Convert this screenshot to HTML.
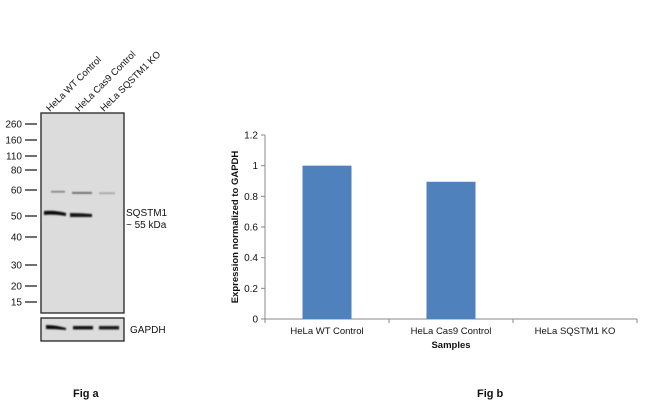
<!DOCTYPE html>
<html><head><meta charset="utf-8"><style>
body{margin:0;background:#fff;}
svg{display:block;font-family:"Liberation Sans",Arial,sans-serif;}
</style></head><body>
<svg id="fig" width="650" height="409" viewBox="0 0 650 409">
<defs>
<filter id="blur1"><feGaussianBlur stdDeviation="0.8"/></filter>
</defs>
<g>
  <rect x="41" y="113" width="83" height="200" fill="#dcdcdc" stroke="#222" stroke-width="1.3"/>
  <rect x="41" y="318" width="83" height="23" fill="#dcdcdc" stroke="#222" stroke-width="1.3"/>
  <g filter="url(#blur1)">
    <path d="M44 211 Q55 210 66 213 L66 216 Q55 214 44 215 Z" fill="#111"/>
    <path d="M70 213 Q81 213 92 214 L92 217 Q81 217 70 217 Z" fill="#151515"/>
    <rect x="51" y="191" width="14" height="1.5" fill="#777"/>
    <rect x="72" y="192" width="20" height="1.8" fill="#666"/>
    <rect x="99" y="192.5" width="16" height="1.4" fill="#999"/>
    <path d="M46 325 Q56 325 66 328 L66 330 Q56 329 46 329 Z" fill="#111"/>
    <rect x="73" y="326" width="20" height="3.5" fill="#181818"/>
    <rect x="99" y="326" width="20" height="3.5" fill="#1a1a1a"/>
  </g>
  <g id="markers" font-size="10" fill="#111"></g>
  <text x="126" y="216" font-size="10" fill="#111">SQSTM1</text>
  <text x="126" y="228" font-size="10" fill="#111">~ 55 kDa</text>
  <text x="130" y="333" font-size="10" fill="#111">GAPDH</text>
  <text transform="translate(50,112) rotate(-45)" font-size="9.5" fill="#111">HeLa WT Control</text>
  <text transform="translate(79,112) rotate(-45)" font-size="9.5" fill="#111">HeLa Cas9 Control</text>
  <text transform="translate(104,112) rotate(-45)" font-size="9.5" fill="#111">HeLa SQSTM1 KO</text>
  <text x="73" y="397" font-size="11" font-weight="bold" fill="#111">Fig a</text>
</g>
<g id="chart"></g>
<text x="477" y="397" font-size="11" font-weight="bold" fill="#111">Fig b</text>
</svg>
<script>
const markerLabels=["260","160","110","80","60","50","40","30","20","15"];
const markerY=[124,140,156,170,190,216,237,265,286,302];
const categories=["HeLa WT Control","HeLa Cas9 Control","HeLa SQSTM1 KO"];
const values=[1.0,0.895,0];
const yTicks=[0,0.2,0.4,0.6,0.8,1,1.2];
const yTickLabels=["0","0.2","0.4","0.6","0.8","1","1.2"];
const NS="http://www.w3.org/2000/svg";
function mk(tag,attrs,parent){const e=document.createElementNS(NS,tag);for(const k in attrs)e.setAttribute(k,attrs[k]);parent.appendChild(e);return e;}
const mg=document.getElementById('markers');
markerLabels.forEach((l,i)=>{
  const t=mk('text',{x:22,y:markerY[i]+3.5,'text-anchor':'end'},mg);t.textContent=l;
  
  
  const ln=mk('line',{x1:25,x2:37,y1:markerY[i],y2:markerY[i],stroke:'#111','stroke-width':1.2},mg);
  
  
});
const ch=document.getElementById('chart');
const X0=265,X1=637,Y0=319,Ytop=135,ymax=1.2;
const ys=v=>Y0-(v/ymax)*(Y0-Ytop);
const cw=(X1-X0)/categories.length;
const ax=mk('line',{x1:X0,x2:X0,y1:Ytop,y2:Y0,stroke:'#888'},ch);


const bx=mk('line',{x1:X0,x2:X1,y1:Y0,y2:Y0,stroke:'#888'},ch);


yTicks.forEach((v,i)=>{
  mk('line',{x1:X0-4,x2:X0,y1:ys(v),y2:ys(v),stroke:'#888'},ch);
  const t=mk('text',{x:X0-7,y:ys(v)+3.5,'text-anchor':'end','font-size':10,fill:'#111'},ch);
  t.textContent=yTickLabels[i];
  
  
});
for(let i=0;i<=categories.length;i++){mk('line',{x1:X0+i*cw,x2:X0+i*cw,y1:Y0,y2:Y0+4,stroke:'#888'},ch);}
categories.forEach((c,i)=>{
  const cx=X0+(i+0.5)*cw;
  if(values[i]>0){
    const r=mk('rect',{x:cx-24.5,y:ys(values[i]),width:49,height:Y0-ys(values[i]),fill:'#4f81bd'},ch);
    
    
  }
  const t=mk('text',{x:cx,y:334,'text-anchor':'middle','font-size':9.5,fill:'#111'},ch);
  t.textContent=c;
  
  
});
const xt=mk('text',{x:(X0+X1)/2,y:348,'text-anchor':'middle','font-size':9.5,'font-weight':'bold',fill:'#111'},ch);
xt.textContent='Samples';


const yt=mk('text',{transform:'translate(238,227) rotate(-90)','text-anchor':'middle','font-size':9.5,'font-weight':'bold',fill:'#111'},ch);
yt.textContent='Expression  normalized to GAPDH';


</script>
</body></html>
